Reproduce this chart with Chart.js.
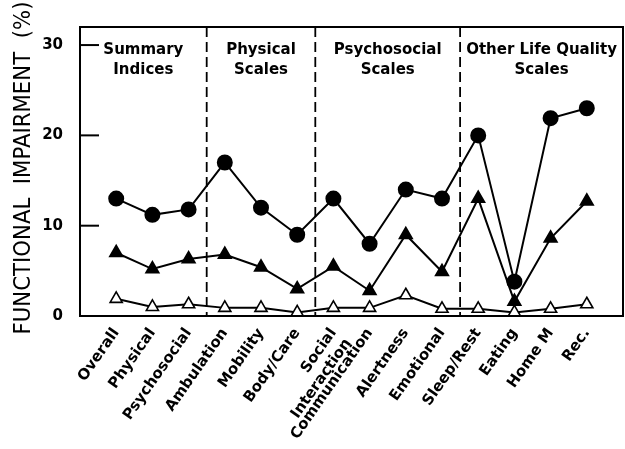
<!DOCTYPE html>
<html>
<head>
<meta charset="utf-8">
<script src="https://cdn.jsdelivr.net/npm/chart.js@4"></script>
<style>
  body { margin: 0; background: #fff; }
  #wrap { width: 625px; height: 449px; }
</style>
</head>
<body>
<div id="wrap"><canvas id="impairChart" width="625" height="449"></canvas></div>
<script>
// Scales along the x axis
const categories = ['Overall', 'Physical', 'Psychosocial', 'Ambulation', 'Mobility', 'Body/Care',
  ['Social', 'Interaction'], 'Communication', 'Alertness', 'Emotional', 'Sleep/Rest', 'Eating', 'Home M', 'Rec.'];

// Percent functional impairment, three groups
const circleValues = [13, 11.2, 11.8, 17, 12, 9, 13, 8, 14, 13, 20, 3.8, 21.9, 23];
const filledTriValues = [7, 5.2, 6.3, 6.8, 5.4, 3, 5.5, 2.8, 9, 4.9, 13, 1.6, 8.6, 12.7];
const openTriValues = [1.9, 1, 1.3, 0.9, 0.9, 0.4, 0.9, 0.9, 2.3, 0.8, 0.8, 0.4, 0.8, 1.3];

const yTicks = [0, 10, 20, 30];
const yTitle = 'FUNCTIONAL  IMPAIRMENT  (%)';

// Section headings and the dashed separators between them
const groupTitles = [['Summary', 'Indices'], ['Physical', 'Scales'], ['Psychosocial', 'Scales'], ['Other Life Quality', 'Scales']];
const dividers = [2.5, 5.5, 9.5];

const toPoints = arr => arr.map((v, i) => ({ x: i, y: v }));

const framePlugin = {
  id: 'frame',
  beforeDatasetsDraw(chart) {
    const { ctx, chartArea: a, scales: { x, y } } = chart;
    ctx.save();
    ctx.strokeStyle = '#000';
    // dashed separators
    ctx.lineWidth = 1.8;
    ctx.setLineDash([10, 5]);
    dividers.forEach(d => {
      const px = x.getPixelForValue(d);
      ctx.beginPath();
      ctx.moveTo(px, a.top);
      ctx.lineTo(px, a.bottom);
      ctx.stroke();
    });
    ctx.setLineDash([]);
    // box
    ctx.lineWidth = 2;
    ctx.strokeRect(a.left, a.top, a.right - a.left, a.bottom - a.top);
    // inward y ticks
    yTicks.slice(1).forEach(v => {
      const py = y.getPixelForValue(v);
      ctx.beginPath();
      ctx.moveTo(a.left, py);
      ctx.lineTo(a.left + 19, py);
      ctx.stroke();
    });
    // section headings
    ctx.fillStyle = '#000';
    ctx.font = 'bold 15px "DejaVu Sans"';
    ctx.textAlign = 'center';
    ctx.textBaseline = 'middle';
    const bounds = [x.min].concat(dividers, [x.max]);
    groupTitles.forEach((lines, i) => {
      const cx = (x.getPixelForValue(bounds[i]) + x.getPixelForValue(bounds[i + 1])) / 2;
      lines.forEach((t, j) => ctx.fillText(t, cx, a.top + 23 + j * 20));
    });
    // tall, narrow y title
    ctx.font = '500 23px "DejaVu Sans"';
    const w = ctx.measureText(yTitle).width;
    ctx.translate(24, 168);
    ctx.rotate(-Math.PI / 2);
    ctx.scale(333 / w, 1);
    ctx.fillText(yTitle, 0, 0);
    ctx.restore();
  }
};

const ctx = document.getElementById('impairChart').getContext('2d');
new Chart(ctx, {
  type: 'line',
  data: {
    datasets: [
      {
        data: toPoints(circleValues),
        borderColor: '#000', borderWidth: 2,
        pointStyle: 'circle', pointRadius: 7,
        pointBackgroundColor: '#000', pointBorderColor: '#000'
      },
      {
        data: toPoints(filledTriValues),
        borderColor: '#000', borderWidth: 2,
        pointStyle: 'triangle', pointRadius: 7,
        pointBackgroundColor: '#000', pointBorderColor: '#000'
      },
      {
        data: toPoints(openTriValues),
        borderColor: '#000', borderWidth: 2,
        pointStyle: 'triangle', pointRadius: 7, pointBorderWidth: 1.6,
        pointBackgroundColor: '#fff', pointBorderColor: '#000'
      }
    ]
  },
  options: {
    responsive: false,
    animation: false,
    layout: { autoPadding: false, padding: { top: 27, right: 2, left: 0, bottom: 0 } },
    plugins: { legend: { display: false }, tooltip: { enabled: false } },
    scales: {
      x: {
        type: 'linear', min: -1, max: 14,
        grid: { display: false, drawTicks: false },
        border: { display: false },
        afterBuildTicks: axis => { axis.ticks = categories.map((c, i) => ({ value: i })); },
        afterFit: axis => { axis.height = 133; axis.paddingLeft = 0; axis.paddingRight = 0; },
        ticks: {
          autoSkip: false, minRotation: 55, maxRotation: 55, padding: 9,
          color: '#000', font: { family: 'DejaVu Sans', size: 15, weight: 'bold' },
          callback: v => categories[v]
        }
      },
      y: {
        min: 0, max: 32,
        grid: { display: false, drawTicks: false },
        border: { display: false },
        afterBuildTicks: axis => { axis.ticks = yTicks.map(v => ({ value: v })); },
        afterFit: axis => { axis.width = 80; axis.paddingTop = 0; axis.paddingBottom = 0; },
        ticks: {
          padding: 17, color: '#000',
          font: { family: 'DejaVu Sans', size: 15, weight: 'bold' }
        }
      }
    }
  },
  plugins: [framePlugin]
});
</script>
</body>
</html>
